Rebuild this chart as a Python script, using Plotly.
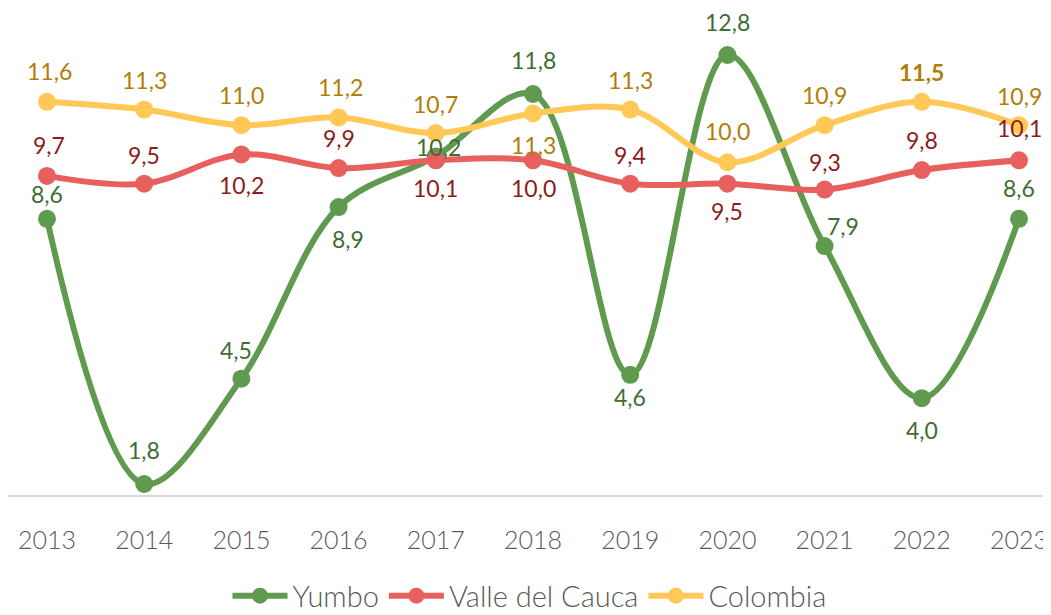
import plotly.graph_objects as go

years = [2013, 2014, 2015, 2016, 2017, 2018, 2019, 2020, 2021, 2022, 2023]
yumbo = [8.6, 1.8, 4.5, 8.9, 10.2, 11.8, 4.6, 12.8, 7.9, 4.0, 8.6]
valle = [9.7, 9.5, 10.25, 9.9, 10.1, 10.1, 9.5, 9.5, 9.35, 9.85, 10.1]
colombia = [11.6, 11.4, 11.0, 11.2, 10.8, 11.3, 11.4, 10.05, 11.0, 11.6, 11.0]

yumbo_labels = ["8,6", "1,8", "4,5", "8,9", "10,2", "11,8", "4,6", "12,8", "7,9", "4,0", "8,6"]
valle_labels = ["9,7", "9,5", "10,2", "9,9", "10,1", "10,0", "9,4", "9,5", "9,3", "9,8", "10,1"]
colombia_labels = ["11,6", "11,3", "11,0", "11,2", "10,7", "11,3", "11,3", "10,0", "10,9", "11,5", "10,9"]

FONT = "Lato"
series = [
    ("Yumbo", yumbo, yumbo_labels, "#5F9A4F", "#3E6E33"),
    ("Valle del Cauca", valle, valle_labels, "#E8605E", "#8C1C1C"),
    ("Colombia", colombia, colombia_labels, "#FFC857", "#B27D06"),
]

# label offsets (xshift, yshift) in pixels relative to marker
offsets = {
    "Yumbo": [(0, 25), (0, 34), (-5, 29), (9, -32), (3, 9), (0, 34), (0, -22), (0, 33), (18, 20), (0, -32), (0, 31)],
    "Valle del Cauca": [(2, 31), (0, 29), (0, -31), (0, 30), (0, -28), (0, -28), (0, 29), (0, -27), (0, 28), (0, 30), (0, 32)],
    "Colombia": [(2, 31), (0, 30), (0, 30), (2, 30), (0, 29), (0, -31), (0, 30), (0, 31), (0, 30), (0, 30), (0, 29)],
}

fig = go.Figure()
annotations = []
for name, vals, labels, lc, tc in series:
    fig.add_trace(go.Scatter(
        x=years, y=vals, name=name, mode="lines+markers",
        line=dict(color=lc, width=6, shape="spline", smoothing=1.0),
        marker=dict(color=lc, size=18),
    ))
    for i, (yr, v, lab) in enumerate(zip(years, vals, labels)):
        dx, dy = offsets[name][i]
        bold = (name == "Colombia" and yr == 2022)
        annotations.append(dict(
            x=yr, y=v, xref="x", yref="y", text=("<b>%s</b>" % lab) if bold else lab,
            showarrow=False, xshift=dx, yshift=dy,
            font=dict(family=FONT, size=23, color=tc),
        ))

# page body has an 8px margin, so the figure is sized 1043x607
fig.update_layout(
    width=1043, height=607,
    margin=dict(l=0, r=0, t=0, b=120, autoexpand=False),
    plot_bgcolor="white", paper_bgcolor="white",
    annotations=annotations,
    showlegend=True,
    legend=dict(orientation="h", x=0.5, xanchor="center", y=-0.207, yanchor="middle",
                font=dict(family=FONT, size=29, color="#595959", weight=300),
                itemwidth=55, tracegroupgap=0),
    xaxis=dict(range=[2012.5988, 2023.329], tickmode="array", tickvals=years,
               ticktext=[str(y) for y in years], showgrid=False, zeroline=False,
               showline=True, linecolor="#D9D9D9", linewidth=2,
               ticks="", tickfont=dict(family=FONT, size=25, color="#595959", weight=300),
               ticklabelstandoff=22, automargin=False),
    yaxis=dict(range=[1.518, 14.005], visible=False, showgrid=False, zeroline=False),
)

fig.write_html("out.html")
